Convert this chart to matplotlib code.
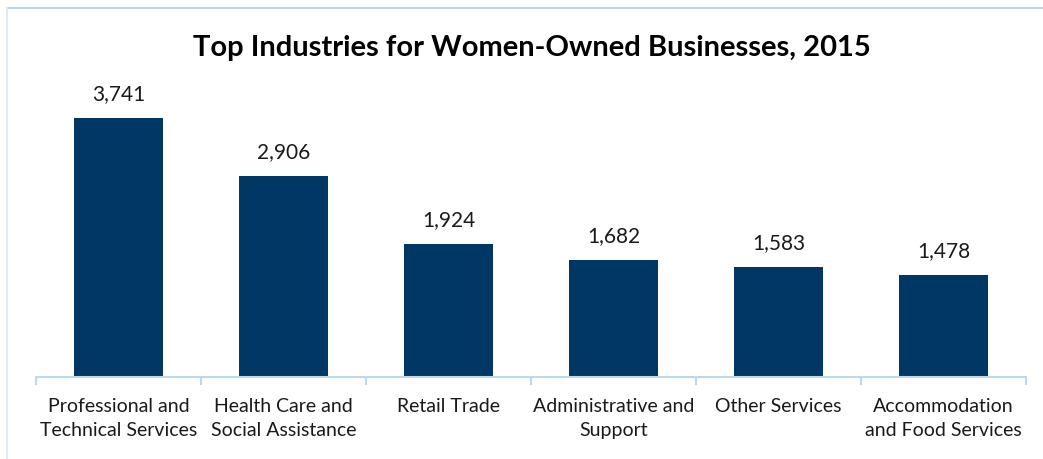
import numpy as np
from matplotlib import pyplot as plt
from matplotlib.lines import Line2D

# chart data
industries = ['Professional and\nTechnical Services', 'Health Care and\nSocial Assistance',
              'Retail Trade', 'Administrative and\nSupport', 'Other Services',
              'Accommodation\nand Food Services']
firms = [3741, 2906, 1924, 1682, 1583, 1478]

barColor = '#003764'
axisColor = '#BDD7EE'

plt.rcParams['font.family'] = ['Lato', 'DejaVu Sans']

fig = plt.figure(figsize=(10.43, 4.59), dpi=100)
ax = fig.add_axes([36 / 1043., 1 - 377 / 459., 990 / 1043., 298 / 459.])

x = np.arange(len(firms))
ax.bar(x, firms, width=0.545, color=barColor, zorder=2)
for xi, v in zip(x, firms):
  ax.annotate('{:,}'.format(v), (xi, v), xytext=(0, 10), textcoords='offset points',
              ha='center', va='bottom', fontsize=15, color='#1a1a1a')

ax.set_xlim(-0.5, len(firms) - 0.5)
ax.set_ylim(0, 4300)
ax.set_yticks([])
for side in ['top', 'right', 'left']:
  ax.spines[side].set_visible(False)
ax.spines['bottom'].set_color(axisColor)
ax.spines['bottom'].set_linewidth(1.5)

# tick marks sit at category boundaries
ax.set_xticks(np.arange(len(firms) + 1) - 0.5)
ax.set_xticklabels([])
ax.tick_params(axis='x', which='major', length=6, width=1.5, color=axisColor)
ax.set_xticks(x, minor=True)
ax.set_xticklabels(industries, minor=True, fontsize=14, color='#1a1a1a', linespacing=1.5)
ax.tick_params(axis='x', which='minor', length=0, pad=15)

fig.text(532 / 1043., 1 - 48 / 459., 'Top Industries for Women-Owned Businesses, 2015',
         ha='center', va='center', fontsize=21, fontweight='bold', color='black')

# light chart frame
fig.add_artist(Line2D([7 / 1043., 1], [1 - 8 / 459.] * 2, color=axisColor, lw=1.5))
fig.add_artist(Line2D([7 / 1043.] * 2, [0, 1 - 8 / 459.], color='#DDEBF7', lw=1.5))

plt.savefig('out.png', dpi=100)
